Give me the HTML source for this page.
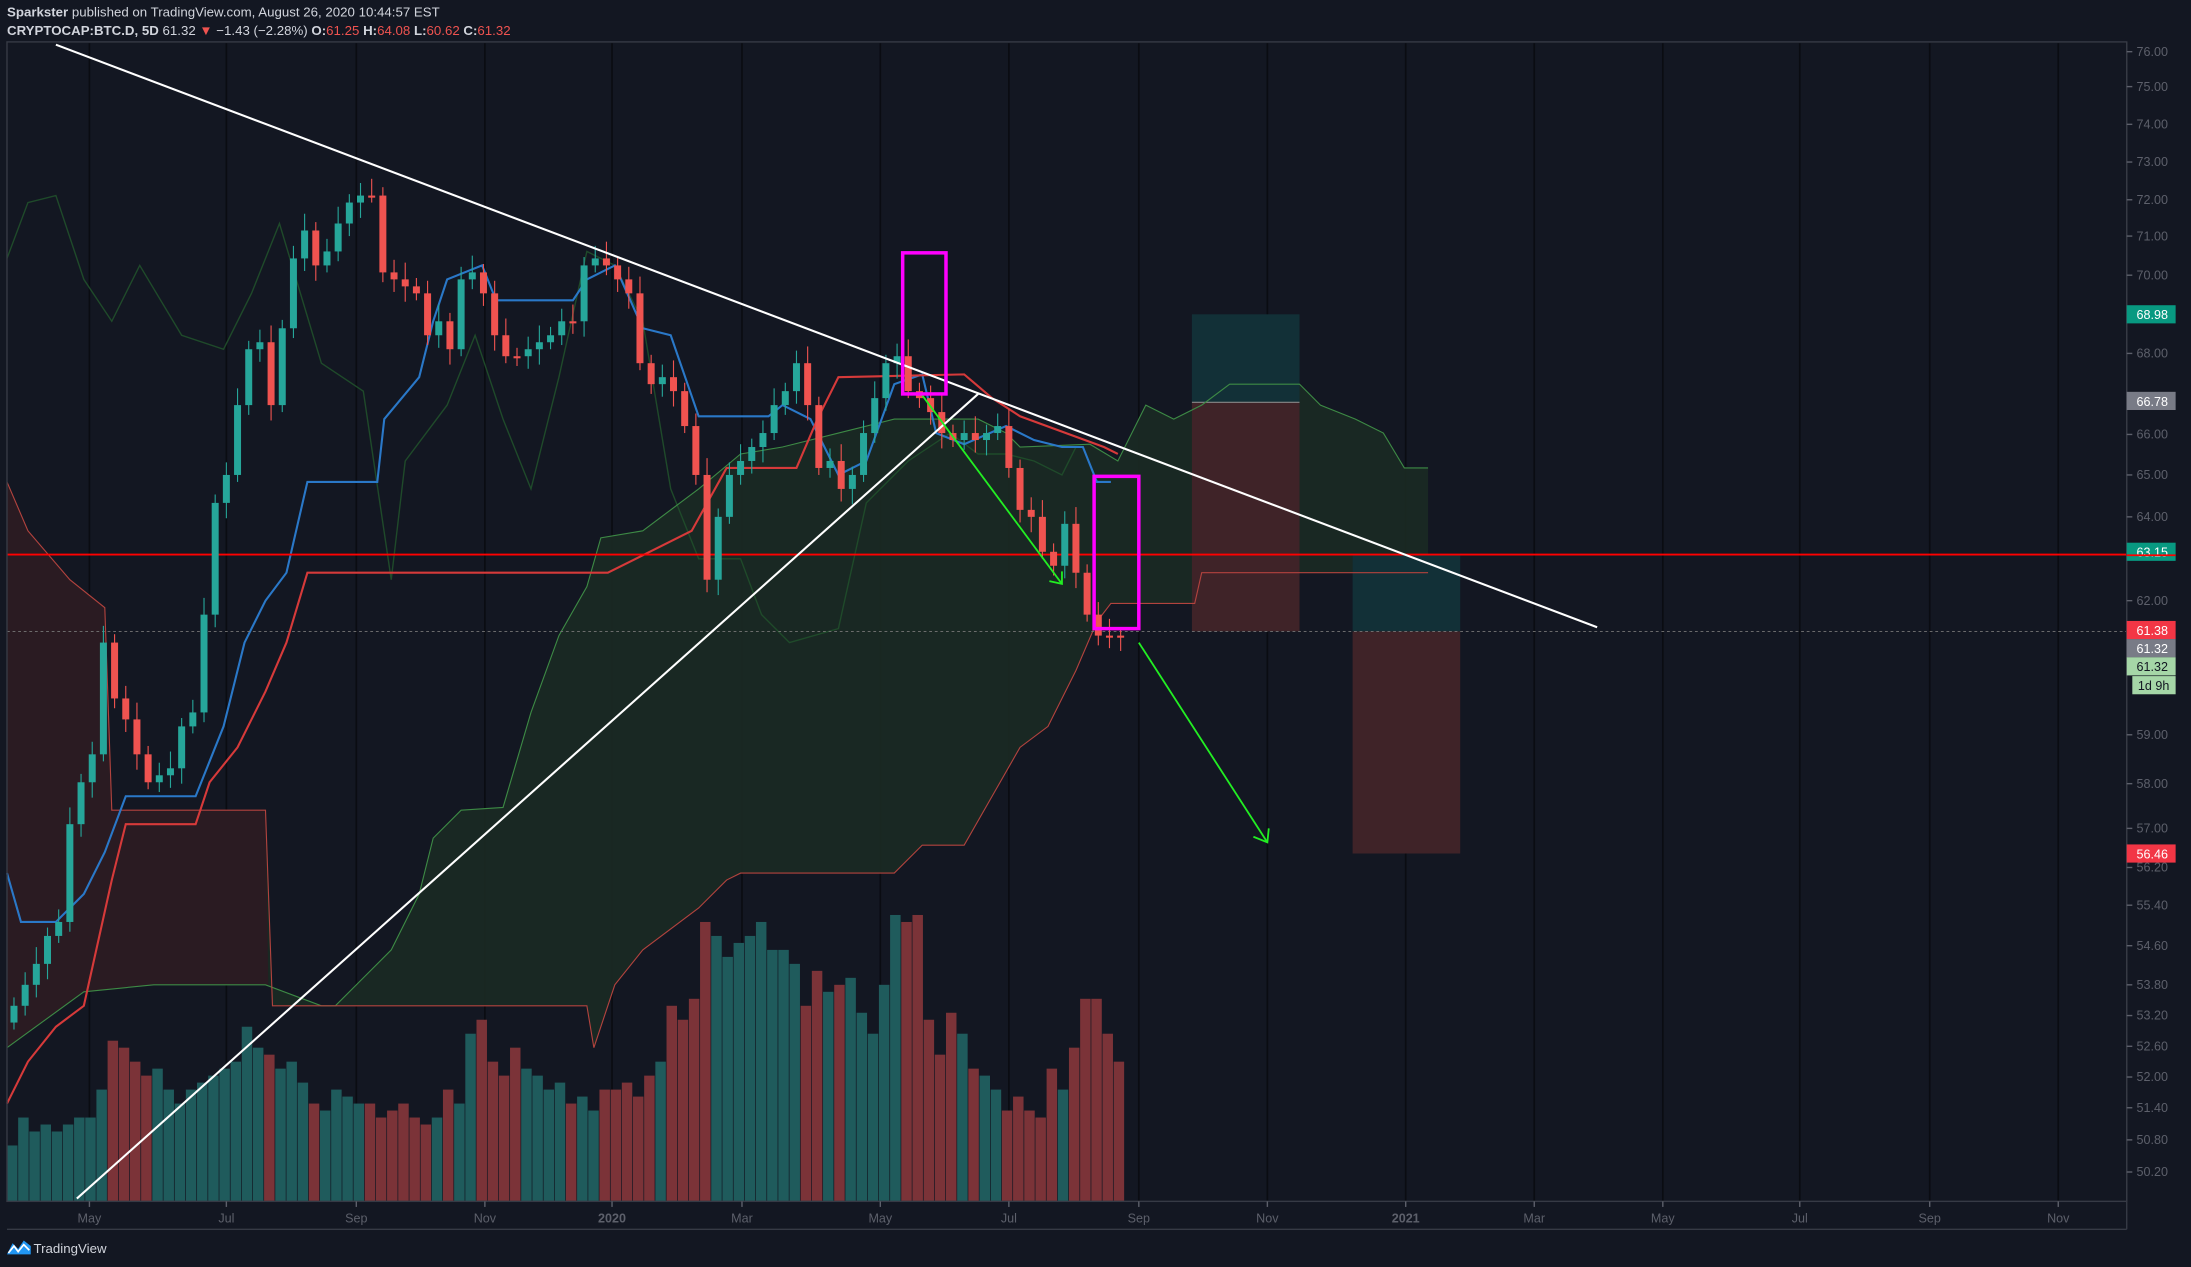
<!DOCTYPE html>
<html><head><meta charset="utf-8"><style>
html,body{margin:0;padding:0;background:#131722;overflow:hidden}
svg{display:block}
text{font-family:"Liberation Sans",sans-serif}
</style></head><body>
<svg id="s" width="2191" height="1267" viewBox="0 0 1568 907" preserveAspectRatio="none" xmlns="http://www.w3.org/2000/svg">
<rect width="1568" height="907" fill="#131722"/>
<g id="grid"></g>
<g id="cloud"></g>
<g id="vol"></g>
<g id="lines"></g>
<g id="cand"></g>
<g id="over"></g>
<rect x="5" y="30" width="1517" height="830" fill="none" stroke="#363a45" stroke-width="1"/>
<line x1="1522" y1="30" x2="1522" y2="880" stroke="#363a45"/>
<line x1="5" y1="880" x2="1522" y2="880" stroke="#363a45"/>
<g id="axis" font-size="9" fill="#5d606b"></g>
<text x="5" y="12" font-size="9.5" fill="#d1d4dc"><tspan font-weight="bold">Sparkster</tspan> published on TradingView.com, August 26, 2020 10:44:57 EST</text>
<text x="5" y="25" font-size="9.5" fill="#d1d4dc"><tspan font-weight="bold">CRYPTOCAP:BTC.D, 5D</tspan> 61.32 <tspan fill="#ef5350">▼</tspan> −1.43 (−2.28%) <tspan font-weight="bold">O:</tspan><tspan fill="#ef5350">61.25</tspan> <tspan font-weight="bold">H:</tspan><tspan fill="#ef5350">64.08</tspan> <tspan font-weight="bold">L:</tspan><tspan fill="#ef5350">60.62</tspan> <tspan font-weight="bold">C:</tspan><tspan fill="#ef5350">61.32</tspan></text>
<g transform="translate(5,886)"><path d="M0 12 L4 4 L8 8 L12 2 L17 6 L17 12 Z" fill="#2196f3"/><path d="M1 11 L5 6 L8 10 L12 5 L16 9" stroke="#fff" stroke-width="1.2" fill="none"/></g>
<text x="24" y="897" font-size="9.5" fill="#d1d4dc">TradingView</text>
</svg>
<script>
const NS="http://www.w3.org/2000/svg";
function el(p,t,a,txt){const e=document.createElementNS(NS,t);for(const k in a)e.setAttribute(k,a[k]);if(txt!==undefined)e.textContent=txt;document.getElementById(p).appendChild(e);return e;}
function pts(a){return a.map(p=>p.join(",")).join(" ");}
// grid
[64,162,255,347,438,531,630,722,815,907,1006,1098,1190,1288,1381,1473].forEach(x=>el("grid","line",{x1:x,y1:31,x2:x,y2:860,stroke:"#0a0c12","stroke-width":1.2}));
// cloud
const A=[[5,750],[60,710],[110,705],[190,705],[230,720],[240,720],[260,700],[280,680],[300,640],[310,600],[330,580],[360,578],[380,510],[400,455],[420,420],[430,385],[460,380],[500,350],[530,325],[560,320],[600,310],[640,300],[700,300],[720,310],[730,320],[780,318],[800,330],[820,290],[840,300],[860,290],[880,275],[930,275],[945,290],[970,300],[990,310],[1005,335],[1022,335]];
const B=[[5,345],[20,380],[50,415],[75,435],[80,580],[190,580],[195,720],[240,720],[420,720],[425,750],[440,705],[460,680],[500,650],[520,630],[530,625],[640,625],[660,605],[690,605],[710,570],[730,535],[750,520],[770,480],[785,445],[795,432],[855,432],[860,410],[1022,410]];
el("cloud","polygon",{points:pts(A.concat(B.slice().reverse())),fill:"#1b2a24",opacity:0.9});
el("cloud","polygon",{points:pts([[5,345],[20,380],[50,415],[75,435],[80,580],[190,580],[192,705],[110,705],[60,710],[5,750]]),fill:"#2a1b22"});
// position boxes
el("cloud","rect",{x:853,y:225,width:77,height:63,fill:"#123037"});
el("cloud","rect",{x:853,y:288,width:77,height:164,fill:"#3f2328"});
el("cloud","rect",{x:968,y:397,width:77,height:55,fill:"#123037"});
el("cloud","rect",{x:968,y:452,width:77,height:159,fill:"#3f2328"});
el("cloud","line",{x1:853,y1:288,x2:930,y2:288,stroke:"#888",'stroke-width':0.8});
// closes
const C=[720,705,690,670,660,590,560,540,460,500,515,540,560,555,550,520,510,440,360,340,290,250,245,290,235,185,165,190,180,160,145,140,140,195,200,205,210,240,230,250,200,195,210,240,255,255,250,245,240,230,230,190,185,190,200,210,260,275,270,280,305,340,415,370,340,330,320,310,290,280,260,290,335,330,350,340,310,285,260,255,280,285,295,310,315,310,315,310,305,335,365,370,395,405,375,410,440,455,455,455];
const X0=10,DX=8;
// volume
const VH=[40,60,50,55,50,55,60,60,80,115,110,100,90,95,80,70,80,85,90,95,100,125,110,105,95,100,85,70,65,80,75,70,70,60,65,70,60,55,60,80,70,120,130,100,90,110,95,90,80,85,70,75,65,80,80,85,75,90,100,140,130,145,200,190,175,185,190,200,180,180,170,140,165,150,155,160,135,120,155,205,200,205,130,105,135,120,95,90,80,65,75,65,60,95,80,110,145,145,120,100,85];
for(let i=0;i<C.length;i++){const o=i?C[i-1]:C[0]+10;const up=C[i]<o;const h=VH[i]||80;el("vol","rect",{x:5+i*8,y:860-h,width:7.5,height:h,fill:up?"#1f5b5c":"#7b3338"});}
// lines
el("lines","polyline",{points:pts([[5,185],[20,145],[40,140],[60,200],[80,230],[100,190],[130,240],[160,250],[180,210],[200,160],[230,260],[260,280],[280,415],[290,330],[320,290],[340,240],[360,300],[380,350],[400,270],[420,180],[440,190],[460,230],[480,350],[500,400],[530,400],[545,440],[565,460],[600,450],[620,360],[650,330],[680,310],[700,325],[720,325],[740,330],[760,340],[770,320]]),fill:"none",stroke:"#1f4a2a","stroke-width":1});
el("lines","polyline",{points:pts(A),fill:"none",stroke:"#3d8a45","stroke-width":0.8});
el("lines","polyline",{points:pts(B),fill:"none",stroke:"#b2433e","stroke-width":0.8});
el("lines","polyline",{points:pts([[5,625],[15,660],[40,660],[60,640],[75,610],[90,570],[140,570],[150,545],[160,520],[175,460],[190,430],[205,410],[220,345],[270,345],[275,300],[300,270],[310,230],[320,200],[345,190],[355,215],[410,215],[420,200],[440,190],[460,235],[480,240],[500,298],[550,298],[560,290],[580,300],[600,340],[620,330],[640,275],[660,268],[670,310],[690,318],[720,305],[740,315],[760,320],[775,320],[785,345],[795,345]]),fill:"none",stroke:"#2a78c8","stroke-width":1.5});
el("lines","polyline",{points:pts([[5,790],[20,760],[40,735],[60,720],[80,630],[90,590],[140,590],[150,560],[170,535],[190,495],[205,460],[220,410],[435,410],[495,380],[520,335],[570,335],[585,300],[600,270],[690,268],[710,285],[730,298],[790,320],[800,325]]),fill:"none",stroke:"#d63a3a","stroke-width":1.5});
el("lines","line",{x1:5,y1:397,x2:1522,y2:397,stroke:"#f00","stroke-width":1.3});
el("lines","line",{x1:5,y1:452,x2:1522,y2:452,stroke:"#777","stroke-width":0.6,"stroke-dasharray":"2,2"});
// candles
for(let i=0;i<C.length;i++){const o=i?C[i-1]:C[0]+12;const c=C[i];const up=c<o;const col=up?"#26a69a":"#ef5350";const x=X0+i*DX;const t=Math.min(o,c),b=Math.max(o,c);
el("cand","line",{x1:x,y1:t-6-(i%3)*3,x2:x,y2:b+5+(i%4)*2,stroke:col,"stroke-width":0.8});
el("cand","rect",{x:x-2.5,y:t,width:5,height:Math.max(1.5,b-t),fill:col});}
// overlays
el("over","line",{x1:40,y1:32,x2:1143,y2:449,stroke:"#fff","stroke-width":1.5});
el("over","line",{x1:55,y1:858,x2:700,y2:282,stroke:"#fff","stroke-width":1.5});
el("over","line",{x1:660,y1:283,x2:760,y2:418,stroke:"#22ee22","stroke-width":1.3});
el("over","polyline",{points:"751,416 760,418 760,409",fill:"none",stroke:"#22ee22","stroke-width":1.3});
el("over","line",{x1:815,y1:460,x2:907,y2:603,stroke:"#22ee22","stroke-width":1.3});
el("over","polyline",{points:"897,599 907,603 908,593",fill:"none",stroke:"#22ee22","stroke-width":1.3});
el("over","rect",{x:646,y:181,width:31,height:101,fill:"none",stroke:"#ff00ff","stroke-width":2.5});
el("over","rect",{x:783,y:341,width:32,height:109,fill:"none",stroke:"#ff00ff","stroke-width":2.5});
// axis labels
[[76,37],[75,62],[74,89],[73,116],[72,143],[71,169],[70,197],[68,253],[66,311],[65,340],[64,370],[62,430],[59,526],[58,561],[57,593],[56.2,621],[55.4,648],[54.6,677],[53.8,705],[53.2,727],[52.6,749],[52,771],[51.4,793],[50.8,816],[50.2,839]].forEach(([v,y])=>{el("axis","line",{x1:1522,y1:y,x2:1526,y2:y,stroke:"#5d606b"});el("axis","text",{x:1529,y:y+3},v.toFixed(2));});
[["May",64],["Jul",162],["Sep",255],["Nov",347],["2020",438],["Mar",531],["May",630],["Jul",722],["Sep",815],["Nov",907],["2021",1006],["Mar",1098],["May",1190],["Jul",1288],["Sep",1381],["Nov",1473]].forEach(([t,x])=>{el("axis","line",{x1:x,y1:860,x2:x,y2:864,stroke:"#5d606b"});const e=el("axis","text",{x:x,y:875,"text-anchor":"middle"},t);if(t.length==4)e.setAttribute("font-weight","bold");});
[["68.98",225,"#089981","#fff"],["66.78",287,"#787b86","#fff"],["63.15",395,"#089981","#fff"],["61.38",451,"#f23645","#fff"],["61.32",464,"#787b86","#fff"],["61.32",477,"#a5d6a7","#131722"],["56.46",611,"#f23645","#fff"]].forEach(([t,y,bg,fg])=>{el("axis","rect",{x:1522,y:y-6.5,width:35,height:13,fill:bg});el("axis","text",{x:1529,y:y+3.5,fill:fg},t);});
el("axis","rect",{x:1526,y:484,width:31,height:13,fill:"#a5d6a7"});
el("axis","text",{x:1530,y:494,fill:"#131722"},"1d 9h");
el("axis","line",{x1:1522,y1:397.5,x2:1557,y2:397.5,stroke:"#f00","stroke-width":1.3});
</script>
</body></html>
